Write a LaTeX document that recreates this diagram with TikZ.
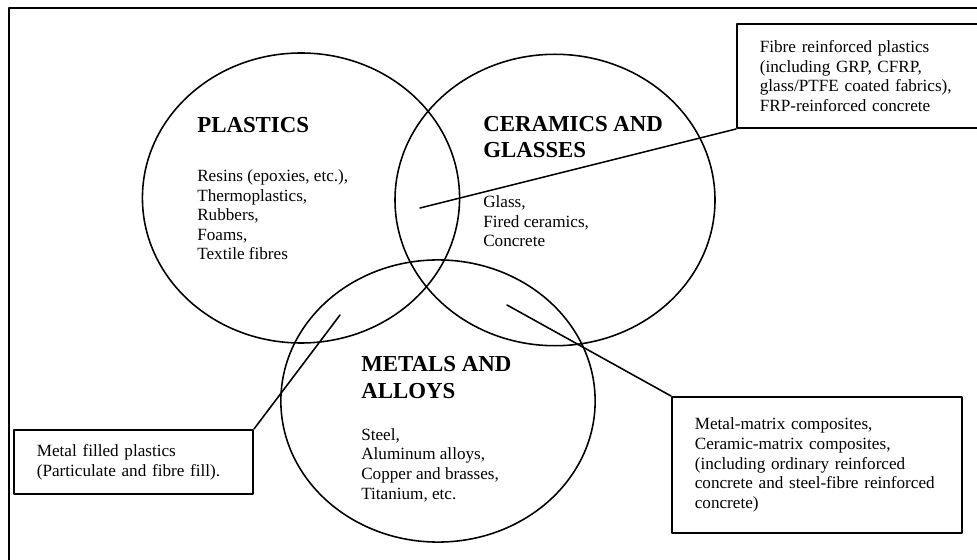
\documentclass[tikz,border=0pt]{standalone}
\usepackage{fontspec}
\setmainfont{Liberation Serif}
\usetikzlibrary{shapes.geometric}
\tikzset{
every picture/.append style={
    line join=round,
    line cap=round
  },
setring/.style={draw, ellipse, line width=1.1pt, inner sep=0pt, minimum width=222pt, minimum height=203pt},
sethead/.style={anchor=base west, align=left, inner sep=0pt, font=\fontsize{16}{18.5}\selectfont\bfseries},
setlist/.style={anchor=base west, align=left, inner sep=0pt, font=\fontsize{12}{13.7}\selectfont},
callout/.style={draw, line width=1.4pt, anchor=north west, align=left, inner xsep=16pt, inner ysep=0pt, font=\fontsize{12}{13.8}\selectfont},
link/.style={line width=1.1pt}
}

\begin{document}
\begin{tikzpicture}[x=0.7pt,y=-0.7pt]
    \useasboundingbox (0,0) rectangle (977,560);
    \clip (0,0) rectangle (977,560);
    \draw [line width=1.4pt] (9,8) rectangle (995,580);
    % the three families (texts sit on their last baseline)
    \node [setring] (plastics) at (301,198) {};
    \node [setring, minimum width=224pt, minimum height=204pt] (ceramics) at (555,200) {};
    \node [setring, minimum width=220pt, minimum height=197.5pt] (metals) at (438,401) {};
    \node [sethead] (plhead) at (197,133) {PLASTICS};
    \node [setlist] (pllist) at (197,260) {Resins (epoxies, etc.),\\Thermoplastics,\\Rubbers,\\Foams,\\Textile fibres};
    \node [sethead] (cehead) at (483,158) {CERAMICS AND\\GLASSES};
    \node [setlist] (celist) at (483,247) {Glass,\\Fired ceramics,\\Concrete};
    \node [sethead] (mehead) at (361,398) {METALS AND\\ALLOYS};
    \node [setlist] (melist) at (361,499) {Steel,\\Aluminum alloys,\\Copper and brasses,\\Titanium, etc.};
    % composites in the overlaps
    \node [callout, text width=152.8pt, minimum height=72.8pt] (frpbox) at (736,23) {Fibre reinforced plastics\\(including GRP, CFRP,\\glass/PTFE coated fabrics),\\FRP-reinforced concrete};
    \node [callout, text width=135.3pt, minimum height=44.8pt] (mfbox) at (13,429) {Metal filled plastics\\(Particulate and fibre fill).};
    \node [callout, text width=171pt, minimum height=95.2pt] (mmcbox) at (671,396) {Metal-matrix composites,\\Ceramic-matrix composites,\\(including ordinary reinforced\\concrete and steel-fibre reinforced\\concrete)};
    \coordinate (frpend) at (420,208);
    \coordinate (mfend) at (340,315);
    \coordinate (mmcend) at (507,305);
    \draw [link] (frpbox.south west) -- (frpend);
    \draw [link] (mfbox.north east) -- (mfend);
    \draw [link] (mmcbox.north west) -- (mmcend);
\end{tikzpicture}
\end{document}
